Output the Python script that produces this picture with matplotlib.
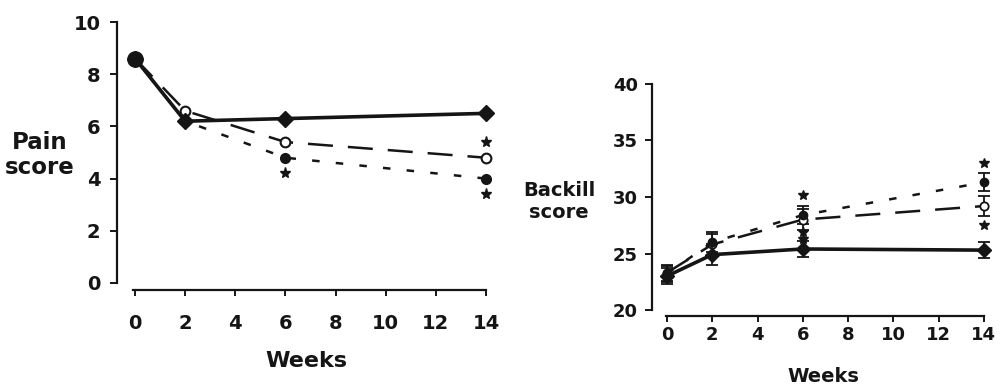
import matplotlib
matplotlib.use("Agg")
import matplotlib.pyplot as plt

weeks = [0, 2, 6, 14]

# pain score
pain_solid = [8.6, 6.2, 6.3, 6.5]
pain_open = [8.6, 6.6, 5.4, 4.8]
pain_filled = [8.6, 6.2, 4.8, 4.0]
pain_star_x = [6, 14, 14]
pain_star_y = [4.2, 5.4, 3.4]

# backfill score
back_solid = [23.0, 24.9, 25.4, 25.3]
back_solid_err = [0.7, 0.9, 0.7, 0.7]
back_open = [23.3, 25.8, 28.0, 29.2]
back_open_err = [0.7, 0.9, 0.9, 0.9]
back_filled = [23.2, 26.0, 28.4, 31.3]
back_filled_err = [0.7, 0.9, 0.8, 0.8]
back_star_x = [6, 6, 6, 14, 14]
back_star_y = [30.2, 26.9, 26.3, 33.0, 27.5]

xticks = [0, 2, 4, 6, 8, 10, 12, 14]

plt.rcParams["font.family"] = ["DejaVu Sans"]
plt.rcParams["font.weight"] = "bold"
INK = "#151515"

fig = plt.figure(figsize=(10.01, 3.87), dpi=100)
W, H = 1001, 387

LONG = (10, 6)
SHORT = (3, 6.5)


def px_axes(l, t, r, b):
    return fig.add_axes([l / W, 1 - b / H, (r - l) / W, (b - t) / H])


def style(ax, ybounds, xbounds, size, xpad, ypad):
    for s in ("top", "right"):
        ax.spines[s].set_visible(False)
    ax.spines["left"].set_bounds(*ybounds)
    ax.spines["bottom"].set_bounds(*xbounds)
    for s in ("left", "bottom"):
        ax.spines[s].set_linewidth(1.6)
        ax.spines[s].set_color(INK)
    ax.tick_params(axis="y", direction="out", length=5, width=1.4, labelsize=size, colors=INK, pad=ypad)
    ax.tick_params(axis="x", direction="out", length=4.5, width=1.4, labelsize=size, colors=INK, pad=xpad)
    ax.set_xticks(xticks)
    for lab in ax.get_xticklabels() + ax.get_yticklabels():
        lab.set_fontweight("bold")


# ---- left: pain score
ax1 = px_axes(117, 15, 495, 290)
ax1.set_xlim(-0.72, 14.36)
ax1.set_ylim(-0.27, 10.27)
ax1.plot(weeks, pain_solid, color=INK, lw=2.6, marker="D", ms=8, zorder=4)
ax1.plot(weeks, pain_open, color=INK, lw=1.8, dashes=LONG, marker="o", ms=7,
         mfc="white", mec=INK, mew=1.5, zorder=3)
ax1.plot(weeks, pain_filled, color=INK, lw=1.8, dashes=SHORT, marker="o", ms=7, zorder=3)
ax1.plot(pain_star_x, pain_star_y, ls="none", marker="*", ms=8, color=INK)
ax1.plot([0], [pain_solid[0]], marker="o", ms=11, color=INK, zorder=5)
ax1.set_yticks([0, 2, 4, 6, 8, 10])
style(ax1, (0, 10), (-0.1, 14), 14, 13, 7)
ax1.set_xlabel("Weeks", fontsize=16, fontweight="bold", color=INK, labelpad=13)
fig.text(40 / W, 1 - 155 / H, "Pain\nscore", ha="center", va="center",
         fontsize=16.5, fontweight="bold", color=INK, linespacing=1.15)

# ---- right: backfill score
ax2 = px_axes(652, 78, 995, 316)
ax2.set_xlim(-0.66, 14.49)
ax2.set_ylim(19.47, 40.53)
ekw = dict(capsize=4, elinewidth=1.3, capthick=1.3)
ax2.errorbar(weeks, back_solid, yerr=back_solid_err, color=INK, lw=2.6, marker="D", ms=7,
             zorder=4, **ekw)
ax2.errorbar(weeks, back_open, yerr=back_open_err, color=INK, lw=1.8, dashes=LONG, marker="o",
             ms=6, mfc="white", mec=INK, mew=1.3, zorder=3, **ekw)
ax2.errorbar(weeks, back_filled, yerr=back_filled_err, color=INK, lw=1.8, dashes=SHORT, marker="o",
             ms=6, zorder=3, **ekw)
ax2.plot(back_star_x, back_star_y, ls="none", marker="*", ms=7, color=INK)
ax2.set_yticks([20, 25, 30, 35, 40])
style(ax2, (20, 40), (-0.05, 14), 13, 3, 5)
ax2.set_xlabel("Weeks", fontsize=14, fontweight="bold", color=INK, labelpad=16)
fig.text(559 / W, 1 - 201 / H, "Backill\nscore", ha="center", va="center",
         fontsize=14, fontweight="bold", color=INK, linespacing=1.2)

fig.savefig("out.png", dpi=100)
